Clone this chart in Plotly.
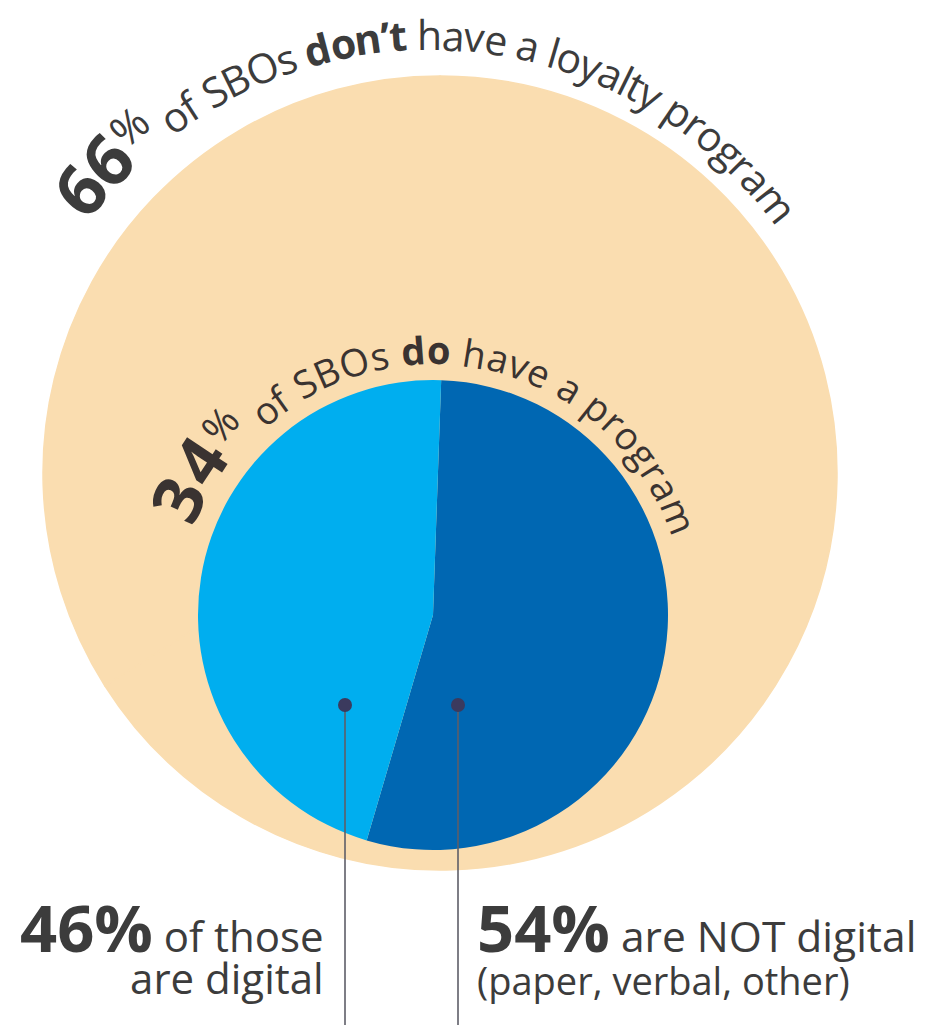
import os
import struct
import math
import plotly.graph_objects as go

W, H = 926, 1025

# ---------------- data ----------------
outer_labels = ["Don’t have a loyalty program", "Have a loyalty program"]
outer_values = [66, 34]
inner_labels = ["NOT digital (paper, verbal, other)", "Digital"]
inner_values = [54, 46]

outer_words = [" of SBOs ", "don’t", " have a loyalty program"]
inner_words = [" of SBOs ", "do", " have a program"]
left_caption = ["of those", "are digital"]
right_caption = ["are NOT digital", "(paper, verbal, other)"]

# ---------------- style ----------------
BEIGE = "#FADDB0"
DARK = "#0067B2"
LIGHT = "#00AEEF"
TEXT = "#3c3c3c"
TEXT_IN = "#3a3331"
FONT = "'Open Sans', 'Noto Sans', sans-serif"


# ---------------- font metrics (for curved text) ----------------
def all_font_files():
    out = []
    for base in ["/usr/share/fonts", "/usr/local/share/fonts", os.path.expanduser("~/.fonts")]:
        if os.path.isdir(base):
            for root, _, files in os.walk(base):
                for f in files:
                    out.append(os.path.join(root, f))
    return out


FILES = all_font_files()


def find_font(names):
    for n in names:
        for p in FILES:
            if os.path.basename(p) == n:
                return p
    return None


def load_metrics(path):
    data = open(path, "rb").read()
    num = struct.unpack(">H", data[4:6])[0]
    tables = {}
    for i in range(num):
        tag, _, off, ln = struct.unpack(">4sIII", data[12 + 16 * i:28 + 16 * i])
        tables[tag.decode("latin1")] = off
    head = tables["head"]
    upm = struct.unpack(">H", data[head + 18:head + 20])[0]
    hhea = tables["hhea"]
    asc, desc = struct.unpack(">hh", data[hhea + 4:hhea + 8])
    nhm = struct.unpack(">H", data[hhea + 34:hhea + 36])[0]
    hmtx = tables["hmtx"]
    adv = [struct.unpack(">H", data[hmtx + 4 * i:hmtx + 4 * i + 2])[0] for i in range(nhm)]
    cmap = tables["cmap"]
    n = struct.unpack(">H", data[cmap + 2:cmap + 4])[0]
    sub = None
    for i in range(n):
        pid, eid, off = struct.unpack(">HHI", data[cmap + 4 + 8 * i:cmap + 12 + 8 * i])
        fmt = struct.unpack(">H", data[cmap + off:cmap + off + 2])[0]
        if pid == 3 and eid == 1 and fmt == 4:
            sub = cmap + off
    segx2 = struct.unpack(">H", data[sub + 6:sub + 8])[0]
    seg = segx2 // 2
    ends = struct.unpack(">%dH" % seg, data[sub + 14:sub + 14 + segx2])
    starts = struct.unpack(">%dH" % seg, data[sub + 16 + segx2:sub + 16 + 2 * segx2])
    deltas = struct.unpack(">%dh" % seg, data[sub + 16 + 2 * segx2:sub + 16 + 3 * segx2])
    rpos = sub + 16 + 3 * segx2
    roffs = struct.unpack(">%dH" % seg, data[rpos:rpos + segx2])

    def gid(c):
        for i in range(seg):
            if ends[i] >= c:
                if starts[i] > c:
                    return 0
                if roffs[i] == 0:
                    return (c + deltas[i]) & 0xFFFF
                addr = rpos + 2 * i + roffs[i] + 2 * (c - starts[i])
                g = struct.unpack(">H", data[addr:addr + 2])[0]
                return (g + deltas[i]) & 0xFFFF if g else 0
        return 0

    def width(ch):
        g = gid(ord(ch))
        return adv[min(g, nhm - 1)] / upm

    return width, asc / upm, -desc / upm


FALLBACK = {" ": 0.26, "a": 0.556, "b": 0.613, "c": 0.48, "d": 0.613, "e": 0.561, "f": 0.344,
            "g": 0.546, "h": 0.613, "i": 0.252, "l": 0.252, "m": 0.931, "n": 0.613, "o": 0.602,
            "p": 0.613, "r": 0.408, "s": 0.479, "t": 0.352, "v": 0.5, "y": 0.5, "S": 0.549,
            "B": 0.631, "O": 0.78, "%": 0.857, "’": 0.16}


def fallback_metrics(bold):
    def w(ch):
        if ch.isdigit():
            return 0.572
        return FALLBACK.get(ch, 0.55) * (1.07 if bold else 1.0)
    return w, 1.069, 0.293


METRICS = {}
for key, names in [("regular", ["OpenSans-Regular.ttf", "OpenSans-Regular.otf"]),
                   ("bold", ["OpenSans-Bold.ttf", "OpenSans-Bold.otf"])]:
    try:
        METRICS[key] = load_metrics(find_font(names))
    except Exception:
        METRICS[key] = fallback_metrics(key == "bold")


def center_k(weight):
    _, a, d = METRICS[weight]
    return (a - d) / 2.0


def arc_text(runs, cx, cy, r, a_start, a_end, color):
    """Place characters along a circular arc (angles in degrees clockwise from 12 o'clock)."""
    items = []
    for text, weight, size, lift in runs:
        wfun = METRICS[weight][0]
        k = center_k(weight)
        for ch in text:
            items.append((ch, weight, size, lift, wfun(ch) * size, k))
    total = sum(it[4] for it in items)
    target = math.radians(a_end - a_start) * r
    extra = (target - total) / max(len(items) - 1, 1)
    anns = []
    s = 0.0
    for i, (ch, weight, size, lift, w, k) in enumerate(items):
        mid = s + w / 2 + i * extra
        s += w
        if ch == " ":
            continue
        th = math.radians(a_start) + mid / r
        rc = r + lift + k * size
        anns.append(dict(
            x=cx + rc * math.sin(th), y=cy - rc * math.cos(th), xref="x", yref="y",
            text=("<b>%s</b>" % ch) if weight == "bold" else ch,
            textangle=math.degrees(th), showarrow=False,
            xanchor="center", yanchor="middle", borderpad=0,
            font=dict(family=FONT, size=size, color=color),
        ))
    return anns


def caption(pct, line1, line2, x, side, baseline, big, size1, size2, base):
    """Two-line caption in one text block; `base` sets the line pitch (1.3 * base px)."""
    _, a, d = METRICS["bold"]
    top = baseline - a * big
    bottom = baseline + 1.3 * base + d * size2
    text = ("<span style='font-size:%dpx'><b>%d%%</b></span>"
            "<span style='font-size:%spx'> %s</span><br>"
            "<span style='font-size:%dpx'>%s</span>") % (big, pct, size1, line1, size2, line2)
    return dict(x=x, y=(top + bottom) / 2.0, xref="x", yref="y", xanchor=side, yanchor="middle",
                align=side, showarrow=False, borderpad=0, text=text,
                font=dict(family=FONT, size=base, color=TEXT))


# ---------------- geometry ----------------
OUT_C, OUT_R = (440, 473), 397
IN_C, IN_R = (433, 615), 235


def domain(c, r):
    return dict(x=[(c[0] - r) / W, (c[0] + r) / W], y=[1 - (c[1] + r) / H, 1 - (c[1] - r) / H])


fig = go.Figure()
fig.add_trace(go.Pie(
    labels=outer_labels, values=outer_values, sort=False, direction="clockwise",
    marker=dict(colors=[BEIGE, BEIGE], line=dict(color=BEIGE, width=1.5)),
    textinfo="none", hoverinfo="label+percent", domain=domain(OUT_C, OUT_R), showlegend=False,
))
fig.add_trace(go.Pie(
    labels=inner_labels, values=inner_values, sort=False, direction="clockwise", rotation=2,
    marker=dict(colors=[DARK, LIGHT], line=dict(width=0)),
    textinfo="none", hoverinfo="label+percent", domain=domain(IN_C, IN_R), showlegend=False,
))

annotations = []
annotations += arc_text(
    [("%d" % outer_values[0], "bold", 70, 0), ("%", "regular", 43, 19),
     (outer_words[0], "regular", 41, 0), (outer_words[1], "bold", 41, 0),
     (outer_words[2], "regular", 41, 0)],
    430, 476, 426, -53.5, 54.3, TEXT)
annotations += arc_text(
    [("%d" % outer_values[1], "bold", 68, 4), ("%", "regular", 40, 20),
     (inner_words[0], "regular", 38, 0), (inner_words[1], "bold", 38, 0),
     (inner_words[2], "regular", 38, 0)],
    433, 615, 251, -70, 72, TEXT_IN)

annotations += [
    caption(inner_values[1], left_caption[0], left_caption[1], 325, "right", 952, 65, 42, 42, 32),
    caption(inner_values[0], right_caption[0], right_caption[1], 476, "left", 952, 65, 42.5, 38, 33),
]

# leader lines with dots (pointing from the captions into the slices)
LEADERS = [(345, 705), (458, 705)]
shapes = []
for lx, ly in LEADERS:
    shapes.append(dict(type="line", x0=lx, x1=lx, y0=ly, y1=H, xref="x", yref="y",
                       line=dict(color="#5e5e68", width=1.6), layer="above"))
    shapes.append(dict(type="circle", x0=lx - 7, x1=lx + 7, y0=ly - 7, y1=ly + 7, xref="x", yref="y",
                       fillcolor="#3b3a5e", line=dict(width=0), layer="above"))

fig.update_layout(
    width=W, height=H, margin=dict(l=0, r=0, t=0, b=0),
    paper_bgcolor="white", plot_bgcolor="rgba(0,0,0,0)",
    xaxis=dict(range=[0, W], visible=False, fixedrange=True),
    yaxis=dict(range=[H, 0], visible=False, fixedrange=True),
    annotations=annotations, shapes=shapes, showlegend=False,
)

fig.write_html("out.html")
